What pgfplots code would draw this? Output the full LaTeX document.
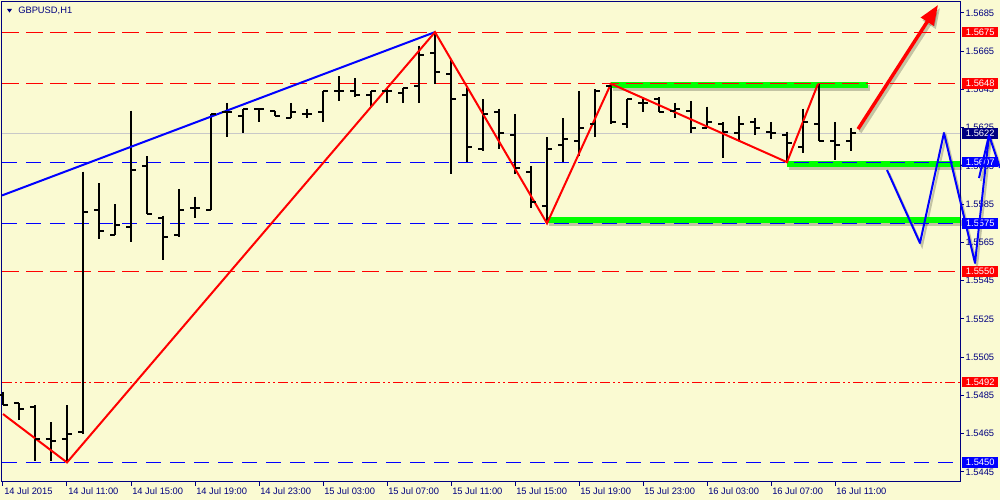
\documentclass[border=0pt]{standalone}
\usepackage{fontspec}
\setmainfont{Liberation Sans}
\usepackage{pgfplots}
\usepackage{pgfplotstable}
\pgfplotsset{compat=1.18}
\usetikzlibrary{arrows.meta}
\definecolor{mtbg}{RGB}{250,250,210}
\definecolor{mtnavy}{RGB}{0,0,128}
\definecolor{mtblue}{RGB}{0,0,255}
\definecolor{mtred}{RGB}{255,0,0}
\definecolor{mtgreen}{RGB}{0,255,0}
\definecolor{mtbid}{RGB}{200,200,200}
\newcommand\mt{\fontsize{7}{8}\selectfont}

% open / close ticks of an OHLC bar
\pgfdeclareplotmark{otick}{\pgfpathmoveto{\pgfqpoint{-3.75pt}{0pt}}\pgfpathlineto{\pgfqpoint{0pt}{0pt}}\pgfusepathqstroke}
\pgfdeclareplotmark{ctick}{\pgfpathmoveto{\pgfqpoint{0pt}{0pt}}\pgfpathlineto{\pgfqpoint{3.75pt}{0pt}}\pgfusepathqstroke}

% GBPUSD H1, bar 0 = 14 Jul 07:00
\pgfplotstableread{
i o h l c
0 1.5485 1.5487 1.5480 1.5480
1 1.5481 1.5481 1.5472 1.5478
2 1.5479 1.5480 1.5451 1.5462
3 1.5462 1.5471 1.5451 1.5461
4 1.5462 1.5480 1.5450 1.5465
5 1.5466 1.5602 1.5465 1.5581
6 1.5582 1.5596 1.5567 1.5571
7 1.5569 1.5585 1.5569 1.5574
8 1.5573 1.5634 1.5565 1.5603
9 1.5605 1.5610 1.5580 1.5580
10 1.5578 1.5579 1.5556 1.5568
11 1.5569 1.5593 1.5568 1.5582
12 1.5583 1.5589 1.5578 1.5583
13 1.5582 1.5632 1.5582 1.5632
14 1.5633 1.5638 1.5620 1.5633
15 1.5631 1.5635 1.5622 1.5635
16 1.5635 1.5635 1.5628 1.5635
17 1.5634 1.5634 1.5631 1.5631
18 1.5630 1.5638 1.5630 1.5633
19 1.5632 1.5635 1.5630 1.5632
20 1.5633 1.5644 1.5628 1.5644
21 1.5644 1.5652 1.5639 1.5644
22 1.5644 1.5651 1.5641 1.5642
23 1.5642 1.5644 1.5636 1.5644
24 1.5644 1.5646 1.5638 1.5644
25 1.5643 1.5646 1.5638 1.5646
26 1.5647 1.5668 1.5638 1.5663
27 1.5664 1.5675 1.5648 1.5654
28 1.5653 1.5661 1.5601 1.5640
29 1.5642 1.5646 1.5607 1.5615
30 1.5614 1.5640 1.5613 1.5632
31 1.5633 1.5635 1.5614 1.5622
32 1.5621 1.5632 1.5601 1.5604
33 1.5602 1.5605 1.5583 1.5586
34 1.5584 1.5620 1.5575 1.5614
35 1.5616 1.5630 1.5607 1.5619
36 1.5618 1.5644 1.5610 1.5625
37 1.5627 1.5645 1.5620 1.5644
38 1.5647 1.5648 1.5627 1.5628
39 1.5627 1.5640 1.5625 1.5640
40 1.5638 1.5641 1.5633 1.5638
41 1.5640 1.5641 1.5633 1.5633
42 1.5634 1.5638 1.5630 1.5635
43 1.5634 1.5639 1.5622 1.5625
44 1.5625 1.5636 1.5625 1.5628
45 1.5627 1.5628 1.5609 1.5623
46 1.5622 1.5631 1.5618 1.5627
47 1.5628 1.5630 1.5621 1.5625
48 1.5623 1.5628 1.5619 1.5622
49 1.5621 1.5623 1.5607 1.5617
50 1.5615 1.5635 1.5612 1.5628
51 1.5627 1.5648 1.5618 1.5618
52 1.5618 1.5628 1.5608 1.5616
53 1.5618 1.5625 1.5613 1.5622
}\ohlc

\pgfplotstableread{
x y
-0.0625 1.55896
27 1.5675
}\trend
\pgfplotstableread{
x y
0 1.54753
4 1.5450
27 1.5675
34 1.5575
38 1.5648
49 1.5607
50.94 1.5648
}\zigzag
\pgfplotstableread{
x y
38 1.56471
54.06 1.56471
}\greenA
\pgfplotstableread{
x y
49 1.56058
59.8125 1.56058
}\greenB
\pgfplotstableread{
x y
34 1.55768
59.8125 1.55768
}\greenC
\pgfplotstableread{
x y
53.44 1.56243
58.44 1.56892
}\arrowline
\pgfplotstableread{
x y
55.25 1.56029
57.31 1.55647
58.81 1.56223
60.75 1.55543
61.625 1.56212
62.31 1.56040
}\wave
\pgfplotstableread{
x y
61.0 1.55987
61.625 1.56212
}\barb

\pgfplotsset{mt/.style={scale only axis, width=718.5pt, height=360pt, anchor=south west,
  xmin=-0.0625, xmax=59.8125, ymin=1.543977, ymax=1.569075, scaled y ticks=false, scaled x ticks=false}}

\begin{document}
\begin{tikzpicture}
\path[use as bounding box, fill=mtbg] (-1.5pt,-13.5pt) rectangle (748.5pt,361.5pt);

% drop shadows
\begin{axis}[mt, at={(1.5pt,-2.25pt)}, hide axis, clip=false]
\addplot[black, opacity=0.22, line width=4.5pt] table {\greenA};
\addplot[black, opacity=0.22, line width=4.5pt] table {\greenB};
\addplot[black, opacity=0.22, line width=4.5pt] table {\greenC};
\addplot[black, opacity=0.22, line width=2.6pt, -{Triangle[length=15pt,width=11pt]}] table {\arrowline};
\addplot[black, opacity=0.22, line width=1.5pt] table {\wave};
\addplot[black, opacity=0.22, line width=1.5pt] table {\barb};
\end{axis}

\begin{axis}[mt, at={(0pt,0pt)},
  axis line style={mtnavy, line width=0.75pt},
  tick style={mtnavy, line width=0.75pt}, tick align=outside, major tick length=3pt,
  xtick pos=left, ytick pos=right, yticklabel pos=right,
  xtick={0,4,...,52},
  xticklabels={14 Jul 2015,14 Jul 11:00,14 Jul 15:00,14 Jul 19:00,14 Jul 23:00,15 Jul 03:00,15 Jul 07:00,15 Jul 11:00,15 Jul 15:00,15 Jul 19:00,15 Jul 23:00,16 Jul 03:00,16 Jul 07:00,16 Jul 11:00},
  ytick={1.5445,1.5465,1.5485,1.5505,1.5525,1.5545,1.5565,1.5585,1.5605,1.5625,1.5645,1.5665,1.5685},
  yticklabels={1.5445,1.5465,1.5485,1.5505,1.5525,1.5545,1.5565,1.5585,1.5605,1.5625,1.5645,1.5665,1.5685},
  xticklabel style={anchor=north west, inner sep=0pt, font=\mt, text=mtnavy, xshift=0.75pt, yshift=-1pt},
  yticklabel style={anchor=west, inner sep=0pt, font=\mt, text=mtnavy, xshift=1pt}]
\addplot[mtgreen, line width=4.5pt] table {\greenA};
\addplot[mtgreen, line width=4.5pt] table {\greenB};
\addplot[mtgreen, line width=4.5pt] table {\greenC};
\addplot[mtbid, line width=0.75pt] coordinates {(-0.0625,1.5622)(59.8125,1.5622)};
\addplot[mtred, line width=0.75pt, dash pattern=on 12.75pt off 5.25pt] coordinates {(-0.0625,1.5675)(59.8125,1.5675)};
\addplot[mtred, line width=0.75pt, dash pattern=on 12.75pt off 5.25pt] coordinates {(-0.0625,1.5648)(59.8125,1.5648)};
\addplot[mtred, line width=0.75pt, dash pattern=on 12.75pt off 5.25pt] coordinates {(-0.0625,1.5550)(59.8125,1.5550)};
\addplot[mtred, line width=0.75pt, dash pattern=on 7.5pt off 2.25pt on 1.5pt off 2.25pt on 1.5pt off 2.25pt] coordinates {(-0.0625,1.5492)(59.8125,1.5492)};
\addplot[mtblue, line width=0.75pt, dash pattern=on 11.25pt off 6.75pt] coordinates {(-0.0625,1.5607)(59.8125,1.5607)};
\addplot[mtblue, line width=0.75pt, dash pattern=on 11.25pt off 6.75pt] coordinates {(-0.0625,1.5575)(59.8125,1.5575)};
\addplot[mtblue, line width=0.75pt, dash pattern=on 11.25pt off 6.75pt] coordinates {(-0.0625,1.5450)(59.8125,1.5450)};
% OHLC bars
\addplot[draw=none, mark=none, error bars/.cd, y dir=minus, y explicit, error mark=none,
  error bar style={draw=black, solid, line width=1.5pt}]
  table[x=i, y=h, y error minus expr=\thisrow{h}-\thisrow{l}] {\ohlc};
\addplot[only marks, mark=otick, mark options={black, solid, line width=1.5pt}] table[x=i, y=o] {\ohlc};
\addplot[only marks, mark=ctick, mark options={black, solid, line width=1.5pt}] table[x=i, y=c] {\ohlc};
\addplot[mtblue, line width=1.5pt] table {\trend};
\addplot[mtred, line width=1.5pt] table {\zigzag};
\coordinate (L5675) at (axis cs:59.8125,1.5675);
\coordinate (L5648) at (axis cs:59.8125,1.5648);
\coordinate (L5622) at (axis cs:59.8125,1.5622);
\coordinate (L5607) at (axis cs:59.8125,1.5607);
\coordinate (L5575) at (axis cs:59.8125,1.5575);
\coordinate (L5550) at (axis cs:59.8125,1.5550);
\coordinate (L5492) at (axis cs:59.8125,1.5492);
\coordinate (L5450) at (axis cs:59.8125,1.5450);
\end{axis}

\tikzset{lvl/.style={anchor=west, xshift=1.5pt, inner sep=0pt, minimum width=27pt, minimum height=8pt, text=white, font=\mt}}
\node[lvl, fill=mtred] at (L5675) {1.5675};
\node[lvl, fill=mtred] at (L5648) {1.5648};
\node[lvl, fill=mtnavy] at (L5622) {1.5622};
\node[lvl, fill=mtblue] at (L5607) {1.5607};
\node[lvl, fill=mtblue] at (L5575) {1.5575};
\node[lvl, fill=mtred] at (L5550) {1.5550};
\node[lvl, fill=mtred] at (L5492) {1.5492};
\node[lvl, fill=mtblue] at (L5450) {1.5450};

\fill[mtnavy] (3.75pt,354.75pt) -- (7.5pt,354.75pt) -- (5.625pt,352.1pt) -- cycle;
\node[anchor=west, inner sep=0pt, font=\mt, text=mtnavy] at (12pt,353.6pt) {GBPUSD,H1};

% hand-drawn arrows
\begin{axis}[mt, at={(0pt,0pt)}, hide axis, clip=false]
\addplot[mtred, line width=2.6pt, -{Triangle[length=15pt,width=11pt]}] table {\arrowline};
\addplot[mtblue, line width=1.5pt, line join=round] table {\wave};
\addplot[mtblue, line width=1.5pt] table {\barb};
\end{axis}
\end{tikzpicture}
\end{document}
